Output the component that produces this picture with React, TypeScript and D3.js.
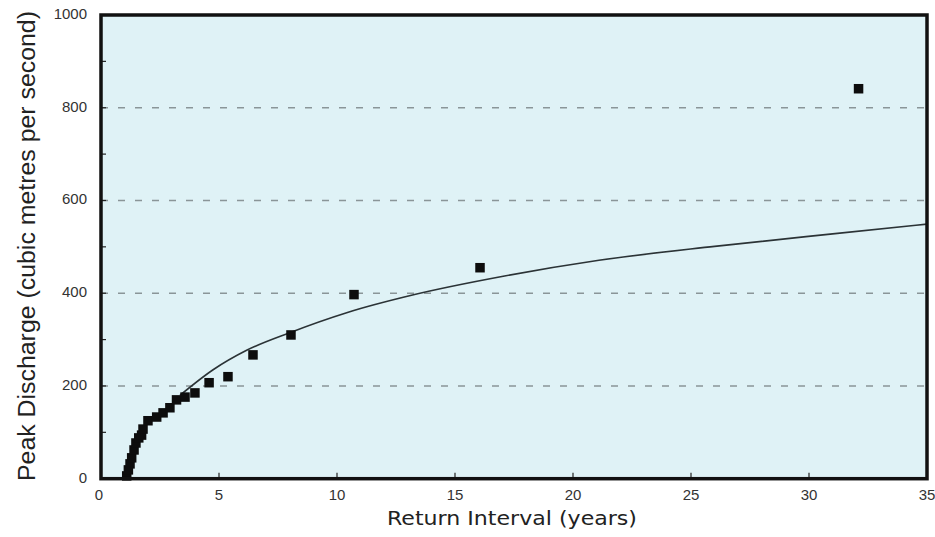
import React, { useEffect, useRef } from 'react';
import * as d3 from 'd3';

// observed floods: return interval (years) and peak discharge (m3/s)
const returnYears = [1.09, 1.16, 1.23, 1.3, 1.4, 1.48, 1.6, 1.72, 1.78, 1.99, 2.36, 2.63, 2.92, 3.2, 3.56, 3.98, 4.58, 5.38, 6.44, 8.05, 10.72, 16.06, 32.1];
const peakFlows = [6, 19, 32, 45, 62, 77, 88, 94, 107, 125, 133, 142, 153, 170, 176, 185, 207, 220, 267, 310, 397, 455, 841];

// fitted curve
const curveYears = [3.35, 4.75, 6.17, 8, 10.41, 13.2, 17.1, 21.1, 26, 31, 35];
const curveFlows = [180, 235, 277, 315, 358, 396, 437, 471, 501, 528, 549];

const xTicks = [0, 5, 10, 15, 20, 25, 30, 35];
const yTicks = [0, 200, 400, 600, 800, 1000];
const yMinor = [100, 300, 500, 700, 900];

const App = () => {
  const ref = useRef<SVGSVGElement>(null);

  useEffect(() => {
    const svg = d3.select(ref.current);
    svg.selectAll('*').remove();

    const left = 101, right = 927, top = 15, bottom = 478.7;
    const x = d3.scaleLinear().domain([0, 35]).range([left, right]);
    const y = d3.scaleLinear().domain([0, 1000]).range([bottom, top]);
    const font = 'Liberation Sans, Arial, sans-serif';

    // plot background
    svg.append('rect')
      .attr('x', left).attr('y', top)
      .attr('width', right - left).attr('height', bottom - top)
      .attr('fill', '#dff2f6');

    // dashed grid lines
    svg.selectAll('.grid')
      .data(yTicks.filter(d => d > 0 && d < 1000))
      .enter().append('line')
      .attr('x1', left).attr('x2', right)
      .attr('y1', d => y(d)).attr('y2', d => y(d))
      .attr('stroke', '#8a9598')
      .attr('stroke-width', 1.4)
      .attr('stroke-dasharray', '7,10');

    // inward ticks
    svg.selectAll('.ytick')
      .data([...yTicks.slice(1, -1), ...yMinor])
      .enter().append('line')
      .attr('x1', left).attr('x2', left + 5)
      .attr('y1', d => y(d)).attr('y2', d => y(d))
      .attr('stroke', '#222').attr('stroke-width', 1.2);

    svg.selectAll('.xtick')
      .data(xTicks.slice(1, -1))
      .enter().append('line')
      .attr('x1', d => x(d)).attr('x2', d => x(d))
      .attr('y1', bottom).attr('y2', bottom - 6)
      .attr('stroke', '#222').attr('stroke-width', 1.2);

    // fitted curve
    const line = d3.line<number>()
      .x((d, i) => x(curveYears[i]))
      .y(d => y(d))
      .curve(d3.curveMonotoneX);
    svg.append('path')
      .attr('d', line(curveFlows))
      .attr('fill', 'none')
      .attr('stroke', '#2b3336')
      .attr('stroke-width', 1.6);

    // data squares
    const s = 9.5;
    svg.selectAll('.pt')
      .data(peakFlows)
      .enter().append('rect')
      .attr('x', (d, i) => x(returnYears[i]) - s / 2)
      .attr('y', d => y(d) - s / 2)
      .attr('width', s).attr('height', s)
      .attr('fill', '#0d0d0d');

    // frame
    svg.append('rect')
      .attr('x', left).attr('y', top)
      .attr('width', right - left).attr('height', bottom - top)
      .attr('fill', 'none')
      .attr('stroke', '#111')
      .attr('stroke-width', 3.5);

    // tick labels
    svg.selectAll('.xlab')
      .data(xTicks)
      .enter().append('text')
      .attr('x', d => x(d) - (d === 0 ? 2 : 0))
      .attr('y', bottom + 21.5)
      .attr('text-anchor', 'middle')
      .attr('font-family', font)
      .attr('font-size', 15)
      .attr('fill', '#333')
      .text(d => d);

    svg.selectAll('.ylab')
      .data(yTicks)
      .enter().append('text')
      .attr('x', left - 14)
      .attr('y', d => y(d) + 4)
      .attr('text-anchor', 'end')
      .attr('font-family', font)
      .attr('font-size', 15)
      .attr('fill', '#333')
      .text(d => d);

    // axis titles
    svg.append('text')
      .attr('x', 512).attr('y', 525)
      .attr('text-anchor', 'middle')
      .attr('font-family', 'DejaVu Sans, sans-serif')
      .attr('font-size', 19.5)
      .attr('textLength', 250)
      .attr('lengthAdjust', 'spacingAndGlyphs')
      .attr('fill', '#222')
      .text('Return Interval (years)');

    svg.append('text')
      .attr('transform', 'translate(35,246) rotate(-90)')
      .attr('text-anchor', 'middle')
      .attr('font-family', font)
      .attr('font-size', 23.5)
      .attr('textLength', 470)
      .attr('lengthAdjust', 'spacingAndGlyphs')
      .attr('fill', '#222')
      .text('Peak Discharge (cubic metres per second)');
  }, []);

  return (
    <svg ref={ref} width={935} height={537}
      style={{ position: 'absolute', left: 0, top: 0, background: '#fff' }} />
  );
};

export default App;
